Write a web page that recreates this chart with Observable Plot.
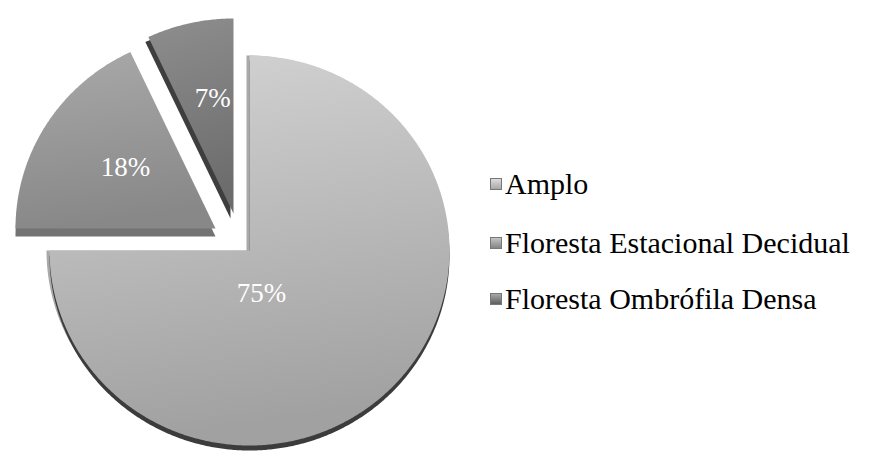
<!DOCTYPE html>
<html><head><meta charset="utf-8">
<script src="https://cdn.jsdelivr.net/npm/d3@7"></script>
<script src="https://cdn.jsdelivr.net/npm/@observablehq/plot@0.6"></script>
<style>
body{margin:0;background:#fff;}
#wrap{position:relative;width:872px;height:452px;}
#legend{position:absolute;left:490px;top:0;font-family:"Liberation Serif","Times New Roman",serif;font-size:30px;color:#000;}
.item{position:absolute;left:0;white-space:nowrap;display:flex;align-items:center;height:34px;}
.sw{width:12px;height:12px;margin-right:3px;box-sizing:border-box;border:1px solid #777;}
</style></head>
<body><div id="wrap"><div id="legend"></div></div>
<script>
const categories = ["Amplo", "Floresta Estacional Decidual", "Floresta Ombrófila Densa"];
const values = [75, 18, 7];
const labels = ["75%", "18%", "7%"];

// styling / layout (not data)
const faceTop = ["#d3d3d3", "#a9a9a9", "#8e8e8e"];
const faceBottom = ["#a1a1a1", "#888888", "#6c6c6c"];
const explode = [[0, 0], [-34, -22], [-16, -37]];
const labelPos = [[165, 0.23], [305, 0.55], [350, 0.6]];
const rx = 200, ry = 195;

const total = d3.sum(values);
let acc = 0;
const slices = values.map((v, i) => {
  const a0 = acc / total * 2 * Math.PI;
  acc += v;
  const a1 = acc / total * 2 * Math.PI;
  return {i, a0, a1, dx: explode[i][0], dy: explode[i][1]};
});

function poly(s, ox = 0, oy = 0) {
  const pts = [{x: s.dx + ox, y: s.dy + oy}];
  const n = Math.max(2, Math.ceil((s.a1 - s.a0) / (Math.PI / 360)));
  for (let k = 0; k <= n; k++) {
    const a = s.a0 + (s.a1 - s.a0) * k / n;
    pts.push({x: s.dx + ox + rx * Math.sin(a), y: s.dy + oy - ry * Math.cos(a)});
  }
  pts.push({x: s.dx + ox, y: s.dy + oy});
  return pts;
}

const labelData = slices.map(s => {
  const lp = labelPos[s.i];
  const ang = lp[0] * Math.PI / 180;
  return {x: s.dx + rx * lp[1] * Math.sin(ang), y: s.dy - ry * lp[1] * Math.cos(ang), text: labels[s.i]};
});

const defs = () => {
  const ns = "http://www.w3.org/2000/svg";
  const d = document.createElementNS(ns, "defs");
  slices.forEach(s => {
    const g = document.createElementNS(ns, "linearGradient");
    g.setAttribute("id", "g" + s.i);
    g.setAttribute("x1", "0"); g.setAttribute("y1", "0");
    g.setAttribute("x2", "0.15"); g.setAttribute("y2", "1");
    [[0, faceTop[s.i]], [1, faceBottom[s.i]]].forEach(([o, c]) => {
      const st = document.createElementNS(ns, "stop");
      st.setAttribute("offset", o); st.setAttribute("stop-color", c);
      g.appendChild(st);
    });
    d.appendChild(g);
  });
  return d;
};

const marks = [defs];
// side faces (3D thickness)
marks.push(Plot.line(poly(slices[0], -3, 0), {x: "x", y: "y", fill: "#a9a9a9", stroke: "none"}));
marks.push(Plot.line(poly(slices[0], 0, 5), {x: "x", y: "y", fill: "#3c3c3c", stroke: "none"}));
marks.push(Plot.line(poly(slices[1], 0, 8), {x: "x", y: "y", fill: "#737373", stroke: "none"}));
marks.push(Plot.line(poly(slices[2], -3, 5), {x: "x", y: "y", fill: "#3e3e3e", stroke: "none"}));
// top faces
slices.forEach(s => {
  marks.push(Plot.line(poly(s), {x: "x", y: "y", fill: `url(#g${s.i})`, stroke: "none"}));
});
marks.push(Plot.text(labelData, {x: "x", y: "y", text: "text", fill: "white", fontSize: 27,
  fontFamily: "Liberation Serif, Times New Roman, serif", lineAnchor: "middle"}));

const chart = Plot.plot({
  width: 872, height: 452,
  margin: 0,
  x: {domain: [-249, 623], range: [0, 872], axis: null},
  y: {domain: [-250, 202], range: [0, 452], axis: null},
  marks
});
document.getElementById("wrap").prepend(chart);

// legend
const swatch = ["linear-gradient(#dcdcdc,#a8a8a8)", "linear-gradient(#c4c4c4,#858585)", "linear-gradient(#a8a8a8,#5e5e5e)"];
const legendY = [184, 243, 299];
const lg = document.getElementById("legend");
categories.forEach((c, i) => {
  const it = document.createElement("div");
  it.className = "item";
  it.style.top = (legendY[i] - 17) + "px";
  const sw = document.createElement("span");
  sw.className = "sw";
  sw.style.background = swatch[i];
  const t = document.createElement("span");
  t.textContent = c;
  it.appendChild(sw); it.appendChild(t);
  lg.appendChild(it);
});
</script>
</body></html>
